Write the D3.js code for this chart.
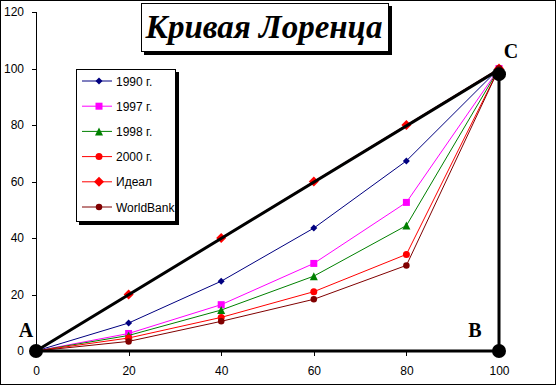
<!DOCTYPE html>
<html><head><meta charset="utf-8">
<script src="https://cdn.jsdelivr.net/npm/d3@7"></script>
<style>html,body{margin:0;padding:0;background:#fff;}svg{display:block;}</style>
</head><body>
<svg id="c" width="556" height="385"></svg>
<script>
const categories = [0, 20, 40, 60, 80, 100];
const s1990 = [0, 9.9, 24.7, 43.5, 67.3, 100];
const s1997 = [0, 6.2, 16.4, 31.0, 52.6, 100];
const s1998 = [0, 5.5, 14.5, 26.5, 44.4, 100];
const s2000 = [0, 4.6, 11.9, 21.0, 34.2, 100];
const ideal = [0, 20, 40, 60, 80, 100];
const worldBank = [0, 3.4, 10.5, 18.3, 30.3, 100];
// black frame: C(100,98) -> B(100,0) -> A(0,0) -> (100,100)
const frameX = [100, 100, 0, 100];
const frameY = [98, 0, 0, 99.6];
const pointX = [0, 100, 100];
const pointY = [0, 0, 98];
const pointLabels = ["A", "B", "C"];
const seriesNames = ["1990 г.", "1997 г.", "1998 г.", "2000 г.", "Идеал", "WorldBank"];
const xTicks = [0, 20, 40, 60, 80, 100];
const yTicks = [0, 20, 40, 60, 80, 100, 120];
const title = "Кривая Лоренца";

const svg = d3.select("#c");
svg.append("rect").attr("x",0.5).attr("y",0.5).attr("width",555).attr("height",384)
  .attr("fill","#fff").attr("stroke","#000");

const x = d3.scaleLinear().domain([0,100]).range([36,499]);
const y = d3.scaleLinear().domain([0,120]).range([351,12]);

const xAxis = d3.axisBottom(x).tickValues(xTicks).tickSize(5).tickPadding(10);
const yAxis = d3.axisLeft(y).tickValues(yTicks).tickSize(4).tickPadding(8);
const gx = svg.append("g").attr("transform","translate(0,351)").call(xAxis);
const gy = svg.append("g").attr("transform","translate(36,0)").call(yAxis);
[gx,gy].forEach(g=>{
  g.selectAll("path").attr("stroke","#000").attr("shape-rendering","crispEdges");
  g.selectAll("line").attr("stroke","#000").attr("shape-rendering","crispEdges");
  g.selectAll("text").attr("font-family","Liberation Sans, Arial, sans-serif").attr("font-size","12px").attr("fill","#000");
});
gx.select(".domain").remove();

const series = [
  {name: seriesNames[0], vals: s1990, color:"#000080", sym:"diamond", size:7},
  {name: seriesNames[1], vals: s1997, color:"#FF00FF", sym:"square", size:7},
  {name: seriesNames[2], vals: s1998, color:"#008000", sym:"triangle", size:8},
  {name: seriesNames[3], vals: s2000, color:"#FF0000", sym:"circle", size:7},
  {name: seriesNames[4], vals: ideal, color:"#FF0000", sym:"diamond", size:10},
  {name: seriesNames[5], vals: worldBank, color:"#800000", sym:"circle", size:6.5}
];

function drawMarker(g, sym, size, color){
  if(sym==="diamond"){
    const h=size/2;
    g.append("path").attr("d",`M0,${-h}L${h},0L0,${h}L${-h},0Z`).attr("fill",color);
  } else if(sym==="square"){
    g.append("rect").attr("x",-size/2).attr("y",-size/2).attr("width",size).attr("height",size).attr("fill",color);
  } else if(sym==="triangle"){
    const h=size/2;
    g.append("path").attr("d",`M0,${-h}L${h},${h}L${-h},${h}Z`).attr("fill",color);
  } else {
    g.append("circle").attr("r",size/2).attr("fill",color);
  }
}

const line = d3.line().x(d=>x(d[0])).y(d=>y(d[1]));
series.forEach(s=>{
  const pts = categories.map((c,i)=>[c,s.vals[i]]);
  svg.append("path").attr("d",line(pts)).attr("fill","none").attr("stroke",s.color).attr("stroke-width",1);
  pts.forEach(p=>{
    const g = svg.append("g").attr("transform",`translate(${x(p[0])},${y(p[1])})`);
    drawMarker(g,s.sym,s.size,s.color);
  });
});

// black frame
const frame = frameX.map((v,i)=>[v,frameY[i]]);
svg.append("path").attr("d",line(frame)).attr("fill","none").attr("stroke","#000").attr("stroke-width",3).attr("stroke-linejoin","round");
const pts = pointX.map((v,i)=>[v,pointY[i]]);
pts.forEach(p=>{
  svg.append("circle").attr("cx",x(p[0])).attr("cy",y(p[1])).attr("r",7).attr("fill","#000");
});
const labPos = [[-10,-14],[-24,-14],[12,-16]];
pts.forEach((p,i)=>{
  svg.append("text").attr("x",x(p[0])+labPos[i][0]).attr("y",y(p[1])+labPos[i][1])
    .attr("text-anchor","middle")
    .attr("font-family","Liberation Serif, Times New Roman, serif").attr("font-weight","bold").attr("font-size","20px")
    .text(pointLabels[i]);
});

// title box
svg.append("rect").attr("x",144).attr("y",6).attr("width",248).attr("height",49).attr("fill","#000");
svg.append("rect").attr("x",141.5).attr("y",3.5).attr("width",247).attr("height",48).attr("fill","#fff").attr("stroke","#000");
svg.append("text").attr("x",264).attr("y",38).attr("text-anchor","middle")
  .attr("font-family","Liberation Serif, Times New Roman, serif").attr("font-weight","bold").attr("font-style","italic")
  .attr("font-size","33px").text(title);

// legend
svg.append("rect").attr("x",79).attr("y",72).attr("width",100).attr("height",153).attr("fill","#000");
svg.append("rect").attr("x",76.5).attr("y",69.5).attr("width",99).attr("height",152).attr("fill","#fff").attr("stroke","#000");
series.forEach((s,i)=>{
  const yy = 81 + i*25.2;
  svg.append("line").attr("x1",82).attr("x2",112).attr("y1",yy).attr("y2",yy).attr("stroke",s.color);
  const g = svg.append("g").attr("transform",`translate(99,${yy})`);
  drawMarker(g,s.sym,s.size,s.color);
  svg.append("text").attr("x",116).attr("y",yy+4.5).attr("font-family","Liberation Sans, Arial, sans-serif")
    .attr("font-size","12px").text(s.name);
});
</script>
</body></html>
